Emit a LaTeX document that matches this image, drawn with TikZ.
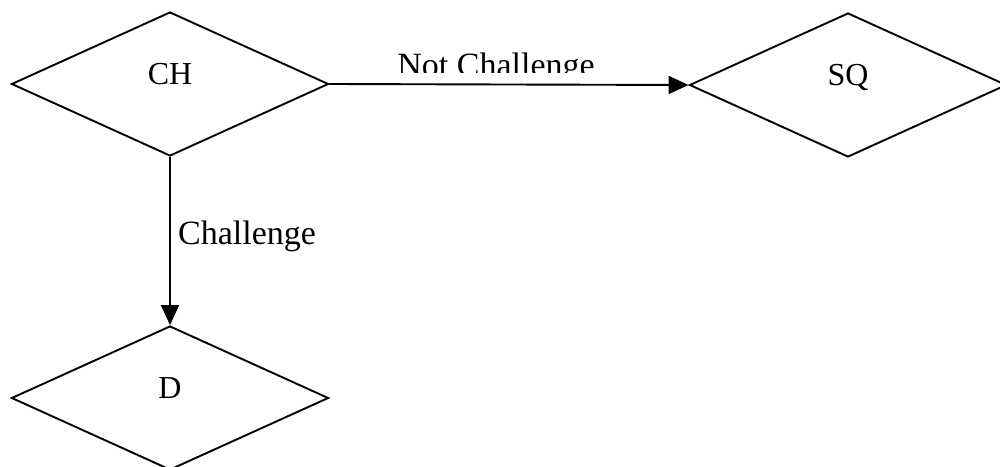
\documentclass[tikz,border=0pt]{standalone}
\usepackage{fontspec}
\setmainfont{Liberation Serif}
\usetikzlibrary{shapes.geometric,arrows.meta}
\begin{document}
\begin{tikzpicture}[x=1pt,y=-1pt,
  decision/.style={diamond, draw=black, line width=1.9pt, inner sep=0pt,
    minimum width=317pt, minimum height=144pt,
    font=\fontsize{32}{32}\selectfont, text height=22pt, text depth=22pt},
  flow/.style={draw=black, line width=1.9pt,
    -{Triangle[length=20pt,width=18pt]}},
  lbl/.style={font=\fontsize{34}{34}\selectfont, inner sep=0pt}]
  \useasboundingbox (0,0) rectangle (1000,466);
  \fill[white] (0,0) rectangle (1000,466);

  % decision nodes
  \node[decision] (ch) at (170,84) {CH};
  \node[decision] (sq) at (848,85) {SQ};
  \node[decision] (d)  at (170,398) {D};

  % connectors
  \draw[flow] (ch.east) -- (sq.west);
  \draw[flow] (ch.south) -- (d.north);

  % connector labels
  \node[lbl, anchor=base west] (chal) at (178,244) {Challenge};
  \begin{scope}
    \clip (380,40) rectangle (620,72);
    \node[lbl, anchor=base] (notchal) at (496,76) {Not Challenge};
  \end{scope}
\end{tikzpicture}
\end{document}
